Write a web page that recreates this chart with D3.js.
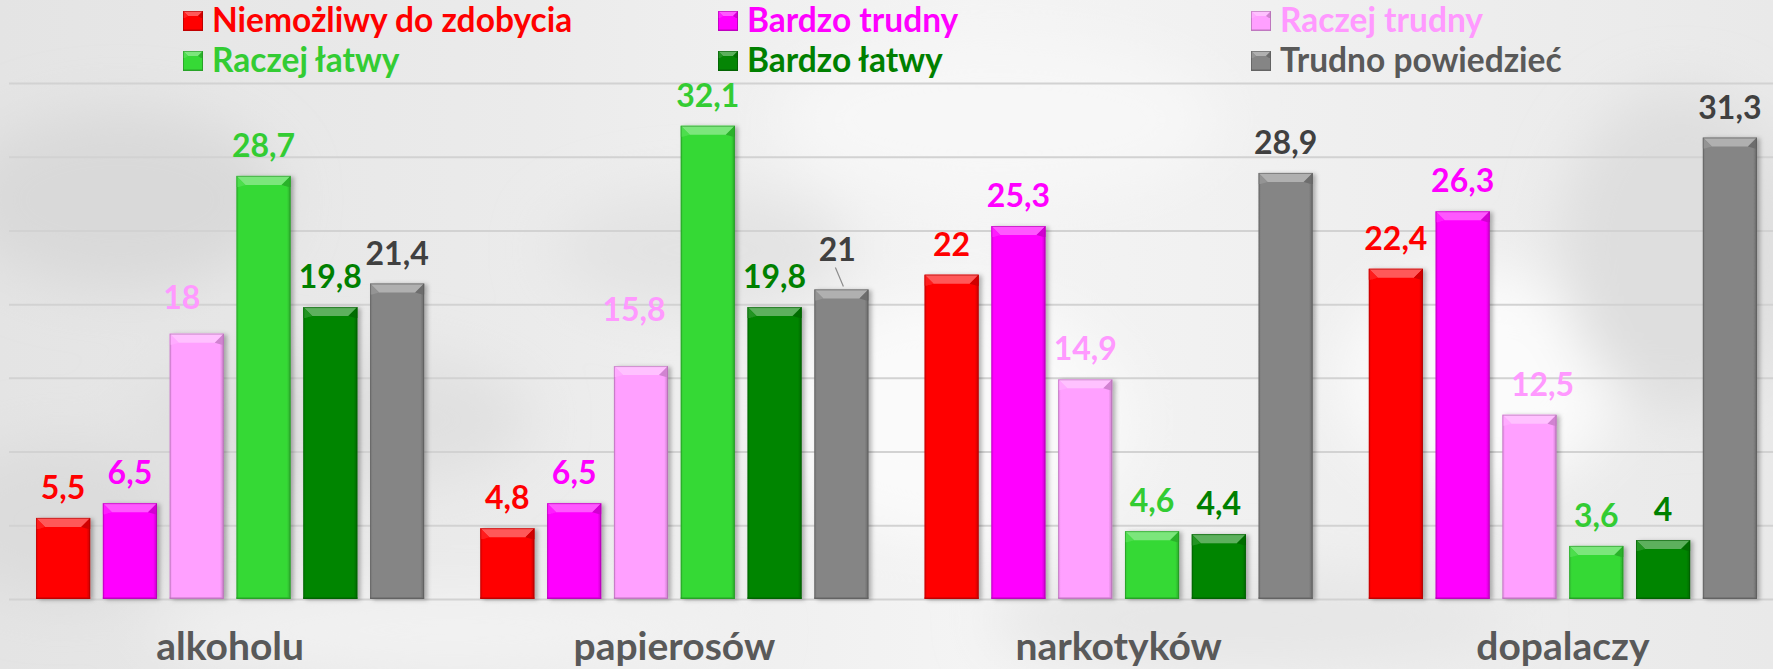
<!DOCTYPE html>
<html lang="pl">
<head>
<meta charset="utf-8">
<script src="https://cdn.jsdelivr.net/npm/d3@7"></script>
<style>
  html, body { margin: 0; padding: 0; background: #efefef; }
  svg { display: block; }
  text { font-family: Lato, "Open Sans", sans-serif; font-weight: 700; }
</style>
</head>
<body>
<svg id="chart" width="1773" height="669"></svg>
<script>
// Ocena dostępności substancji (%)
const categories = ["alkoholu", "papierosów", "narkotyków", "dopalaczy"];
const seriesNames = ["Niemożliwy do zdobycia", "Bardzo trudny", "Raczej trudny", "Raczej łatwy", "Bardzo łatwy", "Trudno powiedzieć"];

const niemozliwy       = [5.5, 4.8, 22, 22.4];
const bardzoTrudny     = [6.5, 6.5, 25.3, 26.3];
const raczejTrudny     = [18, 15.8, 14.9, 12.5];
const raczejLatwy      = [28.7, 32.1, 4.6, 3.6];
const bardzoLatwy      = [19.8, 19.8, 4.4, 4];
const trudnoPowiedziec = [21.4, 21, 28.9, 31.3];

const yTicks = [0, 5, 10, 15, 20, 25, 30, 35];

const seriesValues = [niemozliwy, bardzoTrudny, raczejTrudny, raczejLatwy, bardzoLatwy, trudnoPowiedziec];

// kolory słupków, etykiet wartości i legendy
const barColors   = ["#ff0000", "#ff00ff", "#ffa0ff", "#36d936", "#058505", "#858585"];
const labelColors = ["#ff0000", "#ff00ff", "#ff99ff", "#33cc33", "#008000", "#404040"];
const legendTextColors = ["#ff0000", "#ff00ff", "#ff99ff", "#33cc33", "#008000", "#595959"];

// ręczne przesunięcia etykiet, które w oryginale odsunięto od słupka
const labelNudge = {
  "alkoholu|Raczej trudny": [-15, -6],
  "papierosów|Raczej trudny": [-7, -26],
  "papierosów|Trudno powiedzieć": [-4, -9, true],
  "dopalaczy|Raczej trudny": [13, 0]
};

const W = 1773, H = 669;
const svg = d3.select("#chart");
const defs = svg.append("defs");

// ---------- tło ----------
const bgBlur = defs.append("filter").attr("id", "bgblur")
  .attr("x", "-50%").attr("y", "-50%").attr("width", "200%").attr("height", "200%");
bgBlur.append("feGaussianBlur").attr("stdDeviation", 28);

const bgGrad = defs.append("linearGradient").attr("id", "bggrad")
  .attr("x1", 0).attr("y1", 0).attr("x2", 1).attr("y2", 0);
bgGrad.append("stop").attr("offset", "0%").attr("stop-color", "#e4e4e4");
bgGrad.append("stop").attr("offset", "30%").attr("stop-color", "#ebebeb");
bgGrad.append("stop").attr("offset", "55%").attr("stop-color", "#f4f4f4");
bgGrad.append("stop").attr("offset", "80%").attr("stop-color", "#eeeeee");
bgGrad.append("stop").attr("offset", "100%").attr("stop-color", "#e9e9e9");

const bg = svg.append("g");
bg.append("rect").attr("width", W).attr("height", H).attr("fill", "url(#bggrad)");
const blobs = bg.append("g").attr("filter", "url(#bgblur)");
[
  [120, 200, 160, 90, "#d9d9d9"], [330, 420, 200, 70, "#e0e0e0"], [60, 520, 120, 80, "#dcdcdc"],
  [950, 420, 180, 120, "#fafafa"], [1000, 120, 220, 80, "#f7f7f7"], [1480, 380, 140, 110, "#fbfbfb"],
  [1680, 250, 120, 160, "#dedede"], [700, 250, 150, 60, "#e3e3e3"], [1250, 620, 260, 50, "#e6e6e6"],
  [450, 630, 300, 40, "#f2f2f2"]
].forEach(([cx, cy, rx, ry, c]) => {
  blobs.append("ellipse").attr("cx", cx).attr("cy", cy).attr("rx", rx).attr("ry", ry).attr("fill", c);
});

// ---------- skale ----------
const x0 = d3.scaleBand().domain(categories).range([8, 1785]).padding(0);
const x1 = d3.scaleBand().domain(seriesNames).range([0, x0.bandwidth()])
  .paddingInner(0.19).paddingOuter(0.42);
const y = d3.scaleLinear().domain([0, 35]).range([599, 83]);

// ---------- linie siatki ----------
const grid = svg.append("g").attr("transform", "translate(9,0)")
  .call(d3.axisLeft(y).tickValues(yTicks).tickSize(-(W - 9)).tickFormat(""));
grid.select(".domain").remove();
grid.selectAll(".tick line").attr("stroke", "#d2d2d2").attr("stroke-width", 2);

// ---------- efekty słupków ----------
const shadow = defs.append("filter").attr("id", "barshadow")
  .attr("x", "-20%").attr("y", "-10%").attr("width", "150%").attr("height", "130%");
shadow.append("feDropShadow").attr("dx", 3).attr("dy", 1).attr("stdDeviation", 2.2)
  .attr("flood-color", "#000").attr("flood-opacity", 0.28);

barColors.forEach((c, i) => {
  const g = defs.append("linearGradient").attr("id", "side" + i)
    .attr("x1", 0).attr("y1", 0).attr("x2", 1).attr("y2", 0);
  const dark = d3.interpolateRgb(c, "#000")(0.22);
  const dark2 = d3.interpolateRgb(c, "#000")(0.1);
  g.append("stop").attr("offset", "0%").attr("stop-color", dark2);
  g.append("stop").attr("offset", "5%").attr("stop-color", c);
  g.append("stop").attr("offset", "93%").attr("stop-color", c);
  g.append("stop").attr("offset", "100%").attr("stop-color", dark);
});

function drawBevelBox(sel, x, yTop, w, h, i, bevel) {
  const c = barColors[i];
  const light = d3.interpolateRgb(c, "#fff")(0.35);
  const lightSide = d3.interpolateRgb(c, "#fff")(0.12);
  const darkSide = d3.interpolateRgb(c, "#000")(0.18);
  const edge = d3.interpolateRgb(c, "#000")(0.35);
  const b = Math.min(bevel, h / 2);
  sel.append("rect").attr("x", x).attr("y", yTop).attr("width", w).attr("height", h)
    .attr("fill", `url(#side${i})`);
  // górna ścianka skosu
  sel.append("path")
    .attr("d", `M${x},${yTop}L${x + w},${yTop}L${x + w - b},${yTop + b}L${x + b},${yTop + b}Z`)
    .attr("fill", light);
  // boczne ścianki skosu
  sel.append("path")
    .attr("d", `M${x},${yTop}L${x + b},${yTop + b}L${x + 2},${yTop + b + 2}L${x},${yTop + b + 2}Z`)
    .attr("fill", lightSide);
  sel.append("path")
    .attr("d", `M${x + w},${yTop}L${x + w - b},${yTop + b}L${x + w - 2},${yTop + b + 2}L${x + w},${yTop + b + 2}Z`)
    .attr("fill", darkSide);
  // dolna krawędź
  sel.append("rect").attr("x", x).attr("y", yTop + h - 2).attr("width", w).attr("height", 2)
    .attr("fill", darkSide).attr("opacity", 0.7);
  sel.append("rect").attr("x", x + 0.5).attr("y", yTop + 0.5).attr("width", w - 1).attr("height", h - 1)
    .attr("fill", "none").attr("stroke", edge).attr("stroke-width", 1).attr("opacity", 0.55);
}

const fmt = v => String(v).replace(".", ",");

// ---------- słupki ----------
const rows = categories.map((cat, ci) => ({
  cat,
  items: seriesNames.map((s, si) => ({ cat, s, si, v: seriesValues[si][ci] }))
}));

const groups = svg.append("g").selectAll("g").data(rows).join("g")
  .attr("transform", d => `translate(${x0(d.cat)},0)`);

groups.each(function (d) {
  const g = d3.select(this);
  d.items.forEach(it => {
    const bx = x1(it.s), bw = x1.bandwidth();
    const top = y(it.v), h = y(0) - y(it.v);
    const bar = g.append("g").attr("filter", "url(#barshadow)");
    drawBevelBox(bar, bx, top, bw, h, it.si, 9);
  });
});

// ---------- etykiety wartości ----------
groups.each(function (d) {
  const g = d3.select(this);
  d.items.forEach(it => {
    const cx = x1(it.s) + x1.bandwidth() / 2;
    const nud = labelNudge[it.cat + "|" + it.s] || [0, 0];
    const ty = y(it.v) - 19 + nud[1];
    const tx = cx + nud[0];
    if (nud[2]) {
      g.append("line").attr("x1", tx - 2).attr("y1", ty + 6).attr("x2", cx + 2).attr("y2", y(it.v) - 3)
        .attr("stroke", "#8c8c8c").attr("stroke-width", 1.2);
    }
    g.append("text").attr("x", tx).attr("y", ty)
      .attr("text-anchor", "middle").attr("font-size", 32)
      .attr("fill", labelColors[it.si]).text(fmt(it.v));
  });
});

// ---------- kategorie na osi X ----------
const xAxis = svg.append("g").attr("transform", `translate(0,${y(0)})`)
  .call(d3.axisBottom(x0).tickSize(0).tickPadding(33));
xAxis.select(".domain").remove();
xAxis.selectAll("text").attr("font-size", 39).attr("fill", "#595959")
  .style("font-family", "Lato, 'Open Sans', sans-serif").style("font-weight", 700);

// ---------- legenda ----------
const legendCols = [183, 718, 1251];
const legendRows = [32, 72];
const legend = svg.append("g");
seriesNames.forEach((s, i) => {
  const col = i % 3, row = Math.floor(i / 3);
  const lx = legendCols[col], ly = legendRows[row];
  const item = legend.append("g");
  drawBevelBox(item, lx, ly - 21, 20, 20, i, 5);
  item.append("text").attr("x", lx + 29).attr("y", ly)
    .attr("font-size", 33.5).attr("fill", legendTextColors[i]).text(s);
});
</script>
</body>
</html>
